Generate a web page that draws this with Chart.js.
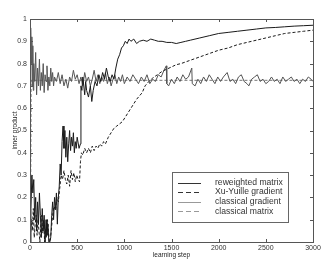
<!DOCTYPE html>
<html>
<head>
<meta charset="utf-8">
<script src="https://cdn.jsdelivr.net/npm/chart.js@4/dist/chart.umd.min.js"></script>
<style>
  html, body { margin: 0; padding: 0; background: #fff; }
  #wrap { width: 336px; height: 259px; }
</style>
</head>
<body>
<div id="wrap"><canvas id="grafico"></canvas></div>
<script>
// eixos
const xTicks = [0, 500, 1000, 1500, 2000, 2500, 3000];
const yTicks = ['0', '0.1', '0.2', '0.3', '0.4', '0.5', '0.6', '0.7', '0.8', '0.9', '1'];

// reweighted matrix (preta, contínua)
const rwSteps = [0,10,20,30,40,50,60,70,80,90,100,110,120,130,140,150,160,170,180,190,200,210,220,230,240,250,260,270,280,290,300,310,320,330,340,350,360,370,380,390,400,410,420,430,440,450,460,470,480,490,500,520,535,540,550,560,570,580,590,600,620,640,655,670,690,710,730,750,770,790,810,830,850,870,890,910,930,950,970,990,1010,1030,1050,1070,1100,1130,1160,1200,1240,1280,1320,1360,1400,1450,1500,1550,1600,1650,1700,1800,1900,2000,2100,2200,2300,2400,2500,2600,2700,2800,2900,3000];
const rwValues = [0.0,0.15,0.30,0.22,0.28,0.10,0.20,0.05,0.18,0.08,0.22,0.12,0.02,0.15,0.05,0.12,0.0,0.10,0.03,0.08,0.0,0.0,0.02,0.12,0.18,0.10,0.20,0.15,0.22,0.08,0.20,0.25,0.35,0.30,0.45,0.52,0.42,0.50,0.38,0.47,0.36,0.44,0.50,0.41,0.47,0.43,0.49,0.40,0.45,0.42,0.47,0.42,0.44,0.70,0.68,0.74,0.70,0.66,0.72,0.68,0.65,0.70,0.63,0.68,0.72,0.70,0.75,0.72,0.76,0.73,0.78,0.74,0.72,0.75,0.73,0.78,0.82,0.84,0.87,0.88,0.90,0.89,0.91,0.90,0.91,0.89,0.90,0.905,0.90,0.91,0.905,0.90,0.90,0.895,0.895,0.89,0.895,0.90,0.905,0.915,0.925,0.935,0.94,0.945,0.95,0.955,0.96,0.962,0.965,0.968,0.97,0.972];

// Xu-Yuille gradient (preta, tracejada)
const xySteps = [0,15,25,35,45,55,65,75,85,95,105,115,125,135,145,155,165,175,185,195,205,215,225,240,255,270,285,300,315,330,345,360,375,390,405,420,435,450,465,480,495,510,525,535,545,560,580,600,620,640,660,680,700,720,740,760,780,800,830,860,890,920,950,980,1010,1040,1070,1100,1130,1160,1190,1220,1260,1300,1350,1400,1450,1500,1550,1600,1700,1800,1900,2000,2100,2200,2300,2400,2500,2600,2700,2800,2900,3000];
const xyValues = [0.0,0.10,0.05,0.15,0.02,0.08,0.12,0.03,0.10,0.05,0.0,0.08,0.12,0.04,0.10,0.0,0.06,0.02,0.10,0.05,0.0,0.01,0.05,0.12,0.16,0.14,0.20,0.18,0.24,0.30,0.28,0.32,0.28,0.26,0.30,0.25,0.32,0.28,0.31,0.27,0.30,0.28,0.27,0.36,0.40,0.39,0.42,0.40,0.42,0.40,0.43,0.41,0.43,0.42,0.44,0.43,0.45,0.44,0.47,0.49,0.51,0.52,0.53,0.54,0.56,0.58,0.60,0.62,0.64,0.655,0.67,0.70,0.72,0.735,0.75,0.765,0.775,0.785,0.795,0.80,0.815,0.83,0.845,0.86,0.87,0.885,0.895,0.905,0.915,0.925,0.935,0.94,0.945,0.95];

// classical gradient (cinza, contínua)
const cgSteps = [0,5,10,15,20,25,30,35,40,50,60,70,80,90,100,110,120,130,140,150,160,170,180,190,200,210,220,230,240,250,260,280,300,320,340,360,380,400,420,440,460,480,500,520,540,560,580,600,620,640,660,680,700,720,740,760,780,800,820,840,860,880,900,920,940,960,980,1000,1030,1060,1090,1120,1150,1180,1210,1240,1270,1300,1330,1360,1390,1420,1445,1450,1470,1500,1530,1560,1590,1620,1650,1680,1715,1720,1750,1780,1810,1840,1870,1900,1930,1960,1990,2020,2050,2090,2120,2150,2180,2210,2240,2270,2300,2320,2350,2380,2410,2440,2470,2500,2530,2560,2590,2620,2650,2680,2710,2740,2770,2800,2830,2860,2890,2920,2950,2980,3000];
const cgValues = [0.70,0.85,0.96,0.80,0.92,0.70,0.88,0.68,0.80,0.72,0.85,0.66,0.78,0.70,0.82,0.68,0.76,0.70,0.80,0.67,0.75,0.72,0.79,0.68,0.74,0.70,0.78,0.72,0.76,0.70,0.74,0.72,0.76,0.71,0.75,0.70,0.73,0.69,0.74,0.72,0.77,0.73,0.75,0.71,0.74,0.70,0.76,0.72,0.74,0.70,0.73,0.77,0.72,0.75,0.71,0.74,0.72,0.76,0.71,0.74,0.70,0.73,0.75,0.71,0.74,0.72,0.75,0.71,0.74,0.72,0.75,0.73,0.71,0.74,0.72,0.75,0.71,0.73,0.72,0.75,0.74,0.77,0.79,0.71,0.70,0.73,0.71,0.74,0.72,0.75,0.73,0.74,0.78,0.71,0.70,0.73,0.71,0.74,0.72,0.75,0.73,0.71,0.74,0.72,0.74,0.76,0.72,0.73,0.71,0.74,0.75,0.72,0.71,0.70,0.73,0.74,0.75,0.72,0.73,0.71,0.72,0.74,0.72,0.73,0.71,0.74,0.72,0.73,0.74,0.72,0.73,0.71,0.73,0.72,0.74,0.73,0.72];

// classical matrix (cinza, tracejada)
const cmSteps = [0, 8, 12, 500, 1000, 1500, 2000, 2500, 3000];
const cmValues = [0.0, 0.30, 0.725, 0.725, 0.725, 0.725, 0.725, 0.725, 0.725];

const FONTE = 'Liberation Sans, Arial, sans-serif';

function pares(passos, valores) {
    const n = Math.min(passos.length, valores.length);
    const out = [];
    for (let i = 0; i < n; i++) out.push({ x: passos[i], y: valores[i] });
    return out;
}

const series = [
    { label: 'reweighted matrix', data: pares(rwSteps, rwValues), cor: '#1a1a1a', dash: [] },
    { label: 'Xu-Yuille gradient', data: pares(xySteps, xyValues), cor: '#1a1a1a', dash: [3, 2] },
    { label: 'classical gradient', data: pares(cgSteps, cgValues), cor: '#555', dash: [] },
    { label: 'classical matrix', data: pares(cmSteps, cmValues), cor: '#777', dash: [3, 2] }
];

// moldura estilo matlab, com marcas para dentro, títulos e legenda
const moldura = {
    id: 'moldura',
    afterDatasetsDraw(chart) {
        const { ctx, chartArea: a, scales } = chart;
        ctx.save();
        ctx.strokeStyle = '#555';
        ctx.lineWidth = 1;
        ctx.setLineDash([]);
        ctx.strokeRect(a.left + 0.5, a.top + 0.5, a.right - a.left, a.bottom - a.top);
        ctx.beginPath();
        xTicks.forEach(v => {
            const px = Math.round(scales.x.getPixelForValue(v)) + 0.5;
            ctx.moveTo(px, a.bottom); ctx.lineTo(px, a.bottom - 3);
            ctx.moveTo(px, a.top); ctx.lineTo(px, a.top + 3);
        });
        yTicks.forEach((t, i) => {
            const py = Math.round(scales.y.getPixelForValue(i / 10)) + 0.5;
            ctx.moveTo(a.left, py); ctx.lineTo(a.left + 3, py);
            ctx.moveTo(a.right, py); ctx.lineTo(a.right - 3, py);
        });
        ctx.stroke();

        // títulos dos eixos
        ctx.fillStyle = '#222';
        ctx.font = '6.5px ' + FONTE;
        ctx.textAlign = 'center';
        ctx.textBaseline = 'middle';
        ctx.fillText('learning step', (a.left + a.right) / 2, 255);
        ctx.translate(15, (a.top + a.bottom) / 2);
        ctx.rotate(-Math.PI / 2);
        ctx.fillText('inner product', 0, 0);
        ctx.restore();
    },
    afterDraw(chart) {
        const ctx = chart.ctx;
        const bx = 172, by = 172, bw = 116, bh = 50;
        ctx.save();
        ctx.fillStyle = '#fff';
        ctx.fillRect(bx, by, bw, bh);
        ctx.strokeStyle = '#666';
        ctx.lineWidth = 1;
        ctx.strokeRect(bx + 0.5, by + 0.5, bw, bh);
        ctx.font = '8.6px ' + FONTE;
        ctx.textBaseline = 'middle';
        series.forEach((s, i) => {
            const y = by + 10.5 + i * 9.6;
            ctx.strokeStyle = i < 2 ? '#333' : '#999';
            ctx.setLineDash(s.dash.length ? [5, 3] : []);
            ctx.beginPath();
            ctx.moveTo(178, Math.round(y) + 0.5);
            ctx.lineTo(201, Math.round(y) + 0.5);
            ctx.stroke();
            ctx.fillStyle = '#333';
            ctx.fillText(s.label, 215, y);
        });
        ctx.restore();
    }
};

new Chart(document.getElementById('grafico'), {
    type: 'line',
    data: {
        datasets: series.map(s => ({
            label: s.label,
            data: s.data,
            borderColor: s.cor,
            borderDash: s.dash,
            borderWidth: 1,
            pointRadius: 0,
            tension: 0,
            fill: false
        }))
    },
    options: {
        responsive: true,
        maintainAspectRatio: false,
        animation: false,
        layout: { padding: { top: 19, right: 23, left: 0, bottom: 0 } },
        plugins: { legend: { display: false }, tooltip: { enabled: false } },
        scales: {
            x: {
                type: 'linear', min: 0, max: 3000,
                afterFit: s => { s.height = 17; },
                afterBuildTicks: s => { s.ticks = xTicks.map(v => ({ value: v })); },
                grid: { display: false, drawTicks: false }, border: { display: false },
                ticks: { padding: 2, color: '#333', font: { family: FONTE, size: 7 }, maxRotation: 0,
                    callback: v => String(v) }
            },
            y: {
                min: 0, max: 1,
                afterFit: s => { s.width = 30; },
                afterBuildTicks: s => { s.ticks = yTicks.map((t, i) => ({ value: i / 10 })); },
                grid: { display: false, drawTicks: false }, border: { display: false },
                ticks: { padding: 3, color: '#333', font: { family: FONTE, size: 7 },
                    callback: (v, i) => yTicks[i] }
            }
        }
    },
    plugins: [moldura]
});
</script>
</body>
</html>
